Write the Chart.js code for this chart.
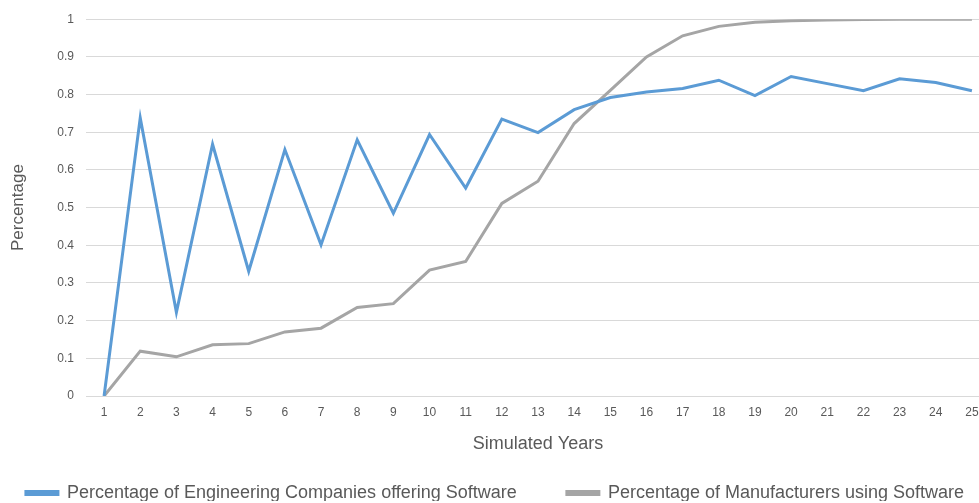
<!DOCTYPE html>
<html>
<head>
<meta charset="utf-8">
<script src="https://cdn.jsdelivr.net/npm/chart.js@4"></script>
<style>
  html, body { margin: 0; padding: 0; background: #fff; overflow: hidden; }
  #wrap { width: 990px; height: 503px; position: relative; }
</style>
</head>
<body>
<div id="wrap"><canvas id="adoptionChart"></canvas></div>
<script>
const years = ["1", "2", "3", "4", "5", "6", "7", "8", "9", "10", "11", "12", "13",
  "14", "15", "16", "17", "18", "19", "20", "21", "22", "23", "24", "25"];

const engineeringOffering = [0, 0.738, 0.222, 0.668, 0.331, 0.654, 0.401, 0.680, 0.485,
  0.694, 0.552, 0.735, 0.699, 0.760, 0.792, 0.807, 0.816, 0.838, 0.797, 0.848,
  0.829, 0.810, 0.842, 0.832, 0.810];

const manufacturersUsing = [0, 0.119, 0.104, 0.136, 0.139, 0.170, 0.180, 0.235, 0.245,
  0.334, 0.357, 0.511, 0.570, 0.723, 0.811, 0.900, 0.956, 0.981, 0.992, 0.996,
  0.998, 0.999, 1, 1, 1];

const FONT = "'Liberation Sans', sans-serif";
const TEXT = "#595959";

// pull the legend box down a little so the row sits near the bottom edge
const legendTrim = {
  id: "legendTrim",
  beforeLayout(chart) {
    const legend = chart.legend;
    if (legend && !legend._trimmed) {
      const fit = legend.fit.bind(legend);
      legend.fit = function () {
        fit();
        this.height -= 11;
      };
      legend._trimmed = true;
    }
  }
};

new Chart(document.getElementById("adoptionChart"), {
  type: "line",
  data: {
    labels: years,
    datasets: [
      {
        label: "Percentage of Engineering Companies offering Software",
        data: engineeringOffering,
        borderColor: "#5b9bd5",
        backgroundColor: "#5b9bd5",
        borderWidth: 3,
        pointRadius: 0,
        tension: 0
      },
      {
        label: "Percentage of Manufacturers using Software",
        data: manufacturersUsing,
        borderColor: "#a5a5a5",
        backgroundColor: "#a5a5a5",
        borderWidth: 3,
        pointRadius: 0,
        tension: 0
      }
    ]
  },
  options: {
    responsive: true,
    maintainAspectRatio: false,
    animation: false,
    layout: { padding: { left: 0, right: 0, top: 12, bottom: 2 } },
    plugins: {
      tooltip: { enabled: false },
      legend: {
        position: "bottom",
        align: "center",
        labels: {
          color: TEXT,
          font: { family: FONT, size: 18 },
          boxWidth: 32,
          boxHeight: 3,
          padding: 10,
          // wider gap between the two entries
          generateLabels: (chart) => {
            const items = Chart.defaults.plugins.legend.labels.generateLabels(chart);
            items.forEach((item, i) => {
              if (i < items.length - 1) item.text += "        ";
            });
            return items;
          }
        }
      }
    },
    scales: {
      x: {
        offset: true,
        grid: { display: false },
        border: { display: true, color: "#d9d9d9", width: 1 },
        ticks: { color: TEXT, font: { family: FONT, size: 12 }, padding: 1, maxRotation: 0, autoSkip: false },
        title: {
          display: true,
          text: "Simulated Years",
          color: TEXT,
          font: { family: FONT, size: 18 },
          padding: { top: 13, bottom: 19 }
        }
      },
      y: {
        min: 0,
        max: 1,
        border: { display: false },
        grid: { color: "#d9d9d9", drawTicks: false },
        ticks: {
          stepSize: 0.1,
          padding: 12,
          color: TEXT,
          font: { family: FONT, size: 12 },
          callback: (v) => String(Math.round(v * 10) / 10)
        },
        title: {
          display: true,
          text: "Percentage",
          color: TEXT,
          font: { family: FONT, size: 17 },
          padding: { top: 8, bottom: 14 }
        },
        afterFit: (scale) => { scale.width = 86; }
      }
    }
  },
  plugins: [legendTrim]
});
</script>
</body>
</html>
